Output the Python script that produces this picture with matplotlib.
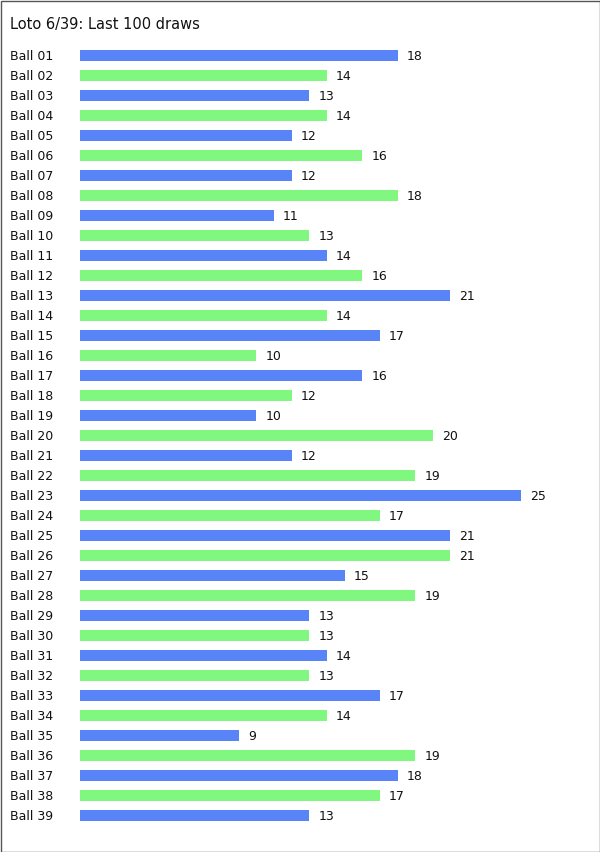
import matplotlib
matplotlib.use("Agg")
import matplotlib.pyplot as plt
from matplotlib.patches import Rectangle
from matplotlib.transforms import blended_transform_factory

title = "Loto 6/39: Last 100 draws"
balls = [f"Ball {i:02d}" for i in range(1, 40)]
counts = [18, 14, 13, 14, 12, 16, 12, 18, 11, 13,
          14, 16, 21, 14, 17, 10, 16, 12, 10, 20,
          12, 19, 25, 17, 21, 21, 15, 19, 13, 13,
          14, 13, 17, 14, 9, 19, 18, 17, 13]
colors_cycle = ["#5884f8", "#80f880"]

W, H = 600, 852
fig = plt.figure(figsize=(W / 100, H / 100), dpi=100)
fig.patch.set_facecolor("white")

left, right, top, bottom = 80, 580, 45, 825
ax = fig.add_axes([left / W, 1 - bottom / H, (right - left) / W, (bottom - top) / H])
ax.set_xlim(0, (right - left) / 17.64)
ax.set_ylim(len(balls) - 0.5, -0.5)
ax.axis("off")

ys = list(range(len(balls)))
cols = [colors_cycle[i % 2] for i in ys]
ax.barh(ys, counts, height=0.55, color=cols, edgecolor="none")

fs = 9.0
for y, v in zip(ys, counts):
    ax.annotate(str(v), (v, y), xytext=(6.5, -3.7), textcoords="offset points",
                va="baseline", ha="left", fontsize=fs, color="#111111")

tr = blended_transform_factory(fig.transFigure, ax.transData)
for y, lab in zip(ys, balls):
    ax.annotate(lab, (10 / W, y), xycoords=tr, xytext=(0, -3.7), textcoords="offset points",
                va="baseline", ha="left", fontsize=fs, color="#111111")

fig.text(10 / W, 1 - 29 / H, title, va="baseline", ha="left", fontsize=10.5, color="#111111")

fig.patches.append(Rectangle((0.5 / W, 0.5 / H), (W - 1) / W, (H - 1) / H,
                             transform=fig.transFigure, fill=False,
                             edgecolor="#555555", linewidth=1.0))

fig.savefig("out.png", dpi=100)
